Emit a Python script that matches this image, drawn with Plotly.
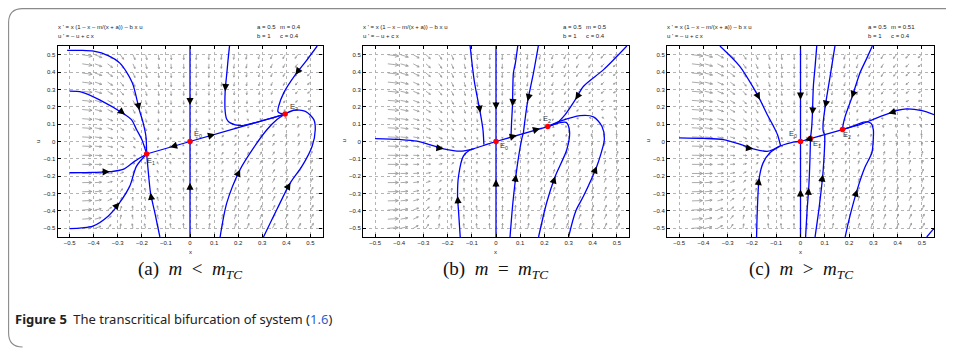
import numpy as np
import plotly.graph_objects as go

W, H = 954, 349          # reference picture size
OFF = 8                  # page margin of the html body
FW, FH = W - OFF, H - OFF

# ---------------- data ----------------
panel_names = ["a", "b", "c"]
param_a = [0.5, 0.5, 0.5]
param_m = [0.4, 0.5, 0.51]
param_b = [1, 1, 1]
param_c = [0.4, 0.4, 0.4]
param_m_text = ["0.4", "0.5", "0.51"]

tick_vals = [-0.5, -0.4, -0.3, -0.2, -0.1, 0, 0.1, 0.2, 0.3, 0.4, 0.5]
tick_text = ["\u22120.5", "\u22120.4", "\u22120.3", "\u22120.2", "\u22120.1", "0",
             "0.1", "0.2", "0.3", "0.4", "0.5"]
axis_range = [-0.55, 0.55]
field_points = 20          # direction-field grid: 20 x 20 over [-0.5, 0.5]

captions = ["(a)\u2002<i>m</i>\u2002&lt;\u2002<i>m</i><sub><i>TC</i></sub>",
            "(b)\u2002<i>m</i>\u2002=\u2002<i>m</i><sub><i>TC</i></sub>",
            "(c)\u2002<i>m</i>\u2002&gt;\u2002<i>m</i><sub><i>TC</i></sub>"]

# equilibria (x, u, label, label_x, label_u)
equilibria_a = [(0.0, 0.0, "0", 0.035, 0.045), (-0.18, -0.072, "1", -0.16, -0.11),
                (0.395, 0.158, "2", 0.43, 0.2)]
equilibria_b = [(0.0, 0.0, "0", 0.035, -0.025), (0.214, 0.086, "2", 0.21, 0.13)]
equilibria_c = [(0.0, 0.0, "0", -0.03, 0.042), (0.041, 0.017, "1", 0.068, -0.012),
                (0.173, 0.069, "2", 0.19, 0.04)]

# trajectories: list of (x values, u values)
traj_a = [
    ([-0.51, -0.45, -0.40, -0.34, -0.29, -0.24, -0.21, -0.195, -0.183, -0.18],
     [0.525, 0.525, 0.52, 0.495, 0.45, 0.34, 0.18, 0.11, 0.03, -0.072]),
    ([-0.5, -0.45, -0.375, -0.27, -0.243, -0.222, -0.2, -0.18],
     [0.29, 0.285, 0.24, 0.155, 0.126, 0.069, 0.011, -0.072]),
    ([-0.5, -0.4, -0.333, -0.278, -0.229, -0.18],
     [-0.18, -0.178, -0.174, -0.161, -0.113, -0.072]),
    ([-0.5, -0.45, -0.403, -0.34, -0.292, -0.25, -0.222, -0.18],
     [-0.502, -0.497, -0.487, -0.43, -0.352, -0.257, -0.142, -0.072]),
    ([-0.125, -0.146, -0.164, -0.174, -0.18],
     [-0.55, -0.41, -0.295, -0.161, -0.072]),
    ([-0.18, 0.0, 0.395], [-0.072, 0.0, 0.158]),
    ([0.0, 0.0], [0.55, -0.55]),
    ([0.164, 0.158, 0.153, 0.146, 0.146, 0.152, 0.167, 0.215, 0.305, 0.395],
     [0.55, 0.47, 0.395, 0.29, 0.174, 0.13, 0.107, 0.092, 0.122, 0.158]),
    ([0.528, 0.48, 0.4375, 0.389, 0.368, 0.365, 0.375, 0.395],
     [0.55, 0.46, 0.385, 0.28, 0.203, 0.172, 0.162, 0.158]),
    ([0.305, 0.361, 0.417, 0.465, 0.507, 0.52, 0.514, 0.479, 0.43, 0.395],
     [-0.55, -0.39, -0.237, -0.142, -0.027, 0.069, 0.126, 0.174, 0.18, 0.158]),
    ([0.125, 0.153, 0.208, 0.25, 0.32, 0.361, 0.395],
     [-0.55, -0.352, -0.161, -0.065, 0.069, 0.126, 0.158]),
]
traj_b = [
    ([0.0, 0.0], [0.55, -0.55]),
    ([0.0, 0.214], [0.0, 0.086]),
    ([0.09, 0.08, 0.072, 0.068, 0.064, 0.062], [0.55, 0.45, 0.395, 0.203, 0.1, 0.025]),
    ([0.175, 0.155, 0.131, 0.12, 0.113], [0.55, 0.395, 0.232, 0.126, 0.046]),
    ([0.058, 0.07, 0.083, 0.096, 0.106, 0.112], [-0.55, -0.35, -0.19, -0.065, 0.011, 0.045]),
    ([-0.107, -0.09, -0.065, -0.054, -0.05], [0.55, 0.35, 0.165, 0.069, -0.018]),
    ([-0.5, -0.4, -0.327, -0.217, -0.148, -0.093, -0.038, 0.0],
     [0.017, 0.012, 0.002, -0.042, -0.056, -0.042, -0.017, 0.0]),
    ([-0.148, -0.155, -0.159, -0.155, -0.135, -0.11, -0.093],
     [-0.55, -0.4, -0.314, -0.2, -0.084, -0.05, -0.042]),
    ([0.541, 0.445, 0.362, 0.328, 0.286, 0.252, 0.214],
     [0.55, 0.414, 0.318, 0.241, 0.155, 0.107, 0.086]),
    ([0.3, 0.33, 0.362, 0.417, 0.431, 0.448, 0.438, 0.403, 0.348, 0.266, 0.214],
     [-0.55, -0.4, -0.314, -0.142, -0.084, 0.011, 0.088, 0.142, 0.149, 0.117, 0.086]),
    ([0.176, 0.21, 0.245, 0.293, 0.304, 0.29, 0.255, 0.214],
     [-0.55, -0.35, -0.2, -0.046, 0.06, 0.11, 0.105, 0.086]),
]
traj_c = [
    ([-0.332, -0.25, -0.19, -0.167, -0.135, -0.112, -0.095, -0.082],
     [0.55, 0.433, 0.3, 0.241, 0.15, 0.09, 0.04, -0.025]),
    ([-0.5, -0.4, -0.318, -0.25, -0.195, -0.133, -0.085, -0.03, 0.0],
     [0.021, 0.018, 0.011, -0.015, -0.042, -0.056, -0.027, -0.004, 0.0]),
    ([-0.181, -0.178, -0.17, -0.154, -0.126, -0.1, -0.085],
     [-0.55, -0.4, -0.21, -0.123, -0.065, -0.04, -0.027]),
    ([0.0, 0.0], [0.55, -0.55]),
    ([0.067, 0.06, 0.053, 0.049, 0.046, 0.041], [0.55, 0.43, 0.318, 0.155, 0.08, 0.017]),
    ([0.021, 0.027, 0.034, 0.039, 0.041], [-0.55, -0.4, -0.266, -0.1, 0.017]),
    ([0.0, 0.041, 0.173], [0.0, 0.017, 0.069]),
    ([0.142, 0.122, 0.101, 0.093, 0.094, 0.1], [0.55, 0.375, 0.194, 0.1, 0.055, 0.04]),
    ([0.06, 0.075, 0.092, 0.098, 0.1, 0.1], [-0.55, -0.4, -0.19, -0.065, 0.0, 0.04]),
    ([0.296, 0.27, 0.245, 0.211, 0.184, 0.176, 0.173],
     [0.55, 0.47, 0.395, 0.251, 0.145, 0.1, 0.069]),
    ([0.55, 0.5, 0.438, 0.4, 0.362, 0.3, 0.25, 0.173],
     [0.155, 0.178, 0.188, 0.18, 0.161, 0.128, 0.1, 0.069]),
    ([0.184, 0.2, 0.234, 0.265, 0.294, 0.3, 0.3, 0.29, 0.26, 0.22, 0.173],
     [-0.55, -0.45, -0.276, -0.15, -0.065, 0.02, 0.069, 0.105, 0.112, 0.09, 0.069]),
    ([0.52, 0.55], [-0.55, -0.5]),
]

# direction arrows on trajectories: (x tip, u tip, dx, du)
arrows_a = [(-0.21, 0.18, 0.02, -0.12), (-0.27, 0.155, 0.153, -0.171),
            (-0.333, -0.174, 1.0, 0.02), (-0.292, -0.352, 0.15, 0.23),
            (-0.164, -0.295, -0.028, 0.249), (-0.083, -0.033, -1.0, -0.4),
            (0.104, 0.042, 1.0, 0.4), (0.0, 0.21, 0.0, -1.0), (0.0, -0.237, 0.0, 1.0),
            (0.146, 0.29, -0.01, -0.2), (0.4375, 0.385, -0.139, -0.268),
            (0.417, -0.237, 0.104, 0.248), (0.208, -0.161, 0.097, 0.287)]
arrows_b = [(0.0, 0.184, 0.0, -1.0), (0.0, -0.218, 0.0, 1.0), (0.068, 0.203, -0.01, -0.2),
            (0.131, 0.232, -0.03, -0.18), (-0.065, 0.165, 0.05, -0.45),
            (0.083, -0.19, 0.02, 0.2), (-0.217, -0.042, 1.0, -0.2),
            (-0.159, -0.314, -0.01, 0.2), (0.086, 0.036, 0.215, 0.088),
            (0.182, 0.075, 0.215, 0.088), (0.328, 0.241, -0.076, -0.163),
            (0.417, -0.142, 0.069, 0.23), (0.245, -0.2, 0.117, 0.5)]
arrows_c = [(-0.167, 0.241, 0.131, -0.345), (0.0, 0.241, 0.0, -1.0), (0.0, -0.276, 0.0, 1.0),
            (0.049, 0.155, -0.01, -0.2), (0.101, 0.194, -0.03, -0.2),
            (0.211, 0.251, -0.061, -0.25), (-0.195, -0.042, 1.0, -0.2),
            (-0.17, -0.21, 0.02, 0.2), (0.034, -0.266, 0.01, 0.2), (0.092, -0.19, 0.02, 0.2),
            (0.362, 0.161, -0.165, -0.071), (0.234, -0.276, 0.11, 0.48),
            (0.018, 0.007, -1.0, -0.4)]

trajectories = [traj_a, traj_b, traj_c]
arrow_sets = [arrows_a, arrows_b, arrows_c]
equilibria = [equilibria_a, equilibria_b, equilibria_c]

# ---------------- layout geometry (page pixels) ----------------
panel_px = [(57.5, 322.5), (363, 629), (667, 934)]
plot_top, plot_bottom = 46, 237


def fx(px):
    return (px - OFF) / FW


def fy(py):
    return 1 - (py - OFF) / FH


fig = go.Figure()
annotations = []
shapes = []

for i in range(3):
    xa = "x" if i == 0 else f"x{i+1}"
    ya = "y" if i == 0 else f"y{i+1}"
    left, right = panel_px[i]
    sx = (right - left) / (axis_range[1] - axis_range[0])
    sy = (plot_bottom - plot_top) / (axis_range[1] - axis_range[0])

    # direction field of the system shown in the panel header
    a, m, b, c = param_a[i], param_m[i], param_b[i], param_c[i]
    g = np.linspace(-0.5, 0.5, field_points)
    X, U = np.meshgrid(g, g)
    with np.errstate(divide="ignore", invalid="ignore"):
        FX = X * (1 - X - m / (X + a)) - b * X * U
    FU = -U + c * X
    qx, qy = [], []
    for x0, u0, vx, vu in zip(X.ravel(), U.ravel(), FX.ravel(), FU.ravel()):
        if not (np.isfinite(vx) and np.isfinite(vu)):
            continue
        px_, py_ = vx * sx, vu * sy
        mag = np.hypot(px_, py_)
        if mag == 0:
            continue
        L = float(np.clip(4.6 * (mag / 70.0) ** (1 / 3), 1.5, 11))
        dxp, dyp = px_ / mag, py_ / mag
        x1 = x0 + L * dxp / sx
        u1 = u0 + L * dyp / sy
        qx += [x0, x1, None]
        qy += [u0, u1, None]
        h = max(1.8, 0.36 * L)
        for ang in (0.45, -0.45):
            ca, sa = np.cos(ang), np.sin(ang)
            bx = -(dxp * ca - dyp * sa)
            by = -(dxp * sa + dyp * ca)
            qx += [x1, x1 + h * bx / sx, None]
            qy += [u1, u1 + h * by / sy, None]
    fig.add_trace(go.Scatter(x=qx, y=qy, mode="lines", xaxis=xa, yaxis=ya,
                             line=dict(color="#969696", width=0.8),
                             hoverinfo="skip", showlegend=False))

    # trajectories
    for tx, tu in trajectories[i]:
        fig.add_trace(go.Scatter(x=tx, y=tu, mode="lines", xaxis=xa, yaxis=ya,
                                 line=dict(color="#0000ff", width=1.3, shape="spline",
                                           smoothing=0.8),
                                 hoverinfo="skip", showlegend=False))

    # equilibria
    eqs = equilibria[i]
    fig.add_trace(go.Scatter(x=[e[0] for e in eqs], y=[e[1] for e in eqs], mode="markers",
                             xaxis=xa, yaxis=ya,
                             marker=dict(color="#ff0000", size=5.5),
                             hoverinfo="skip", showlegend=False))
    for e in eqs:
        annotations.append(dict(x=e[3], y=e[4], xref=xa, yref=ya, xanchor="center",
                                yanchor="middle", text=f"E<sub>{e[2]}</sub>",
                                showarrow=False,
                                font=dict(size=7.5, color="#333", family="Liberation Sans")))

    # direction arrows
    for (x, u, dx, du) in arrow_sets[i]:
        pdx, pdy = dx * sx, du * sy
        n = np.hypot(pdx, pdy)
        tail_x = x - 9 * pdx / n / sx
        tail_u = u - 9 * pdy / n / sy
        annotations.append(dict(x=x, y=u, ax=tail_x, ay=tail_u, xref=xa, yref=ya,
                                axref=xa, ayref=ya, showarrow=True, arrowhead=2,
                                arrowsize=1.1, arrowwidth=1.3, arrowcolor="black",
                                standoff=0, text=""))

    # axes
    common = dict(range=axis_range, tickvals=tick_vals, ticktext=tick_text,
                  ticks="inside", ticklen=3, tickwidth=0.8, tickcolor="black",
                  showline=True, linecolor="black", linewidth=1.1, mirror="ticks",
                  showgrid=True, gridcolor="#b4b4b4", griddash="dot", gridwidth=0.8,
                  zeroline=False, fixedrange=True,
                  tickfont=dict(size=6, family="Liberation Sans", color="#222"))
    fig.update_layout(**{
        ("xaxis" if i == 0 else f"xaxis{i+1}"): dict(
            domain=[fx(left), fx(right)], anchor=ya, **common),
        ("yaxis" if i == 0 else f"yaxis{i+1}"): dict(
            domain=[fy(plot_bottom), fy(plot_top)], anchor=xa, **common),
    })

    # header texts
    hdr = dict(showarrow=False, xref="paper", yref="paper", xanchor="left",
               yanchor="middle", font=dict(size=6, family="Liberation Sans", color="#222"))
    annotations.append(dict(x=fx(left - 2), y=fy(27.5),
                            text="x ' = x (1 \u2013 x \u2013 m/(x + a)) \u2013 b x u", **hdr))
    annotations.append(dict(x=fx(left - 2), y=fy(36), text="u ' = \u2013 u + c x", **hdr))
    annotations.append(dict(x=fx(right - 68), y=fy(27.5), text=f"a = {param_a[i]}", **hdr))
    annotations.append(dict(x=fx(right - 45), y=fy(27.5), text=f"m = {param_m_text[i]}", **hdr))
    annotations.append(dict(x=fx(right - 68), y=fy(36), text=f"b = {param_b[i]}", **hdr))
    annotations.append(dict(x=fx(right - 45), y=fy(36), text=f"c = {param_c[i]}", **hdr))

    # axis labels
    cx = (left + right) / 2
    annotations.append(dict(x=fx(cx), y=fy(252), xref="paper", yref="paper", text="x",
                            xanchor="center", yanchor="middle", showarrow=False,
                            font=dict(size=6, family="Liberation Sans", color="#222")))
    annotations.append(dict(x=fx(left - 20), y=fy(141.5), xref="paper", yref="paper",
                            text="u", textangle=-90, xanchor="center", yanchor="middle",
                            showarrow=False,
                            font=dict(size=6, family="Liberation Sans", color="#222")))
    # sub caption
    annotations.append(dict(x=fx(cx), y=fy(270), xref="paper", yref="paper",
                            text=captions[i], xanchor="center", yanchor="middle",
                            showarrow=False,
                            font=dict(size=19, family="Liberation Serif", color="#111")))

# figure caption
annotations.append(dict(x=fx(13), y=fy(319), xref="paper", yref="paper", xanchor="left",
                        yanchor="middle", showarrow=False,
                        text="<b>Figure 5</b>\u2002The transcritical bifurcation of system "
                             "(<span style='color:#2f5fd0'>1.6</span>)",
                        font=dict(size=13, family="Noto Sans", color="#222")))

# rounded frame (left/top border)
r = 14
fl, ft, fb = 8.6, 8.6, 347
path = (f"M {fx(W + 5)} {fy(ft)} L {fx(fl + r)} {fy(ft)} Q {fx(fl)} {fy(ft)} {fx(fl)} {fy(ft + r)} "
        f"L {fx(fl)} {fy(fb - r)} Q {fx(fl)} {fy(fb)} {fx(fl + r)} {fy(fb)}")
shapes.append(dict(type="path", path=path, xref="paper", yref="paper",
                   line=dict(color="#8a8a8a", width=1.1)))

fig.update_layout(width=FW, height=FH, margin=dict(l=0, r=0, t=0, b=0),
                  paper_bgcolor="white", plot_bgcolor="white", showlegend=False,
                  annotations=annotations, shapes=shapes)

fig.write_html("out.html")
